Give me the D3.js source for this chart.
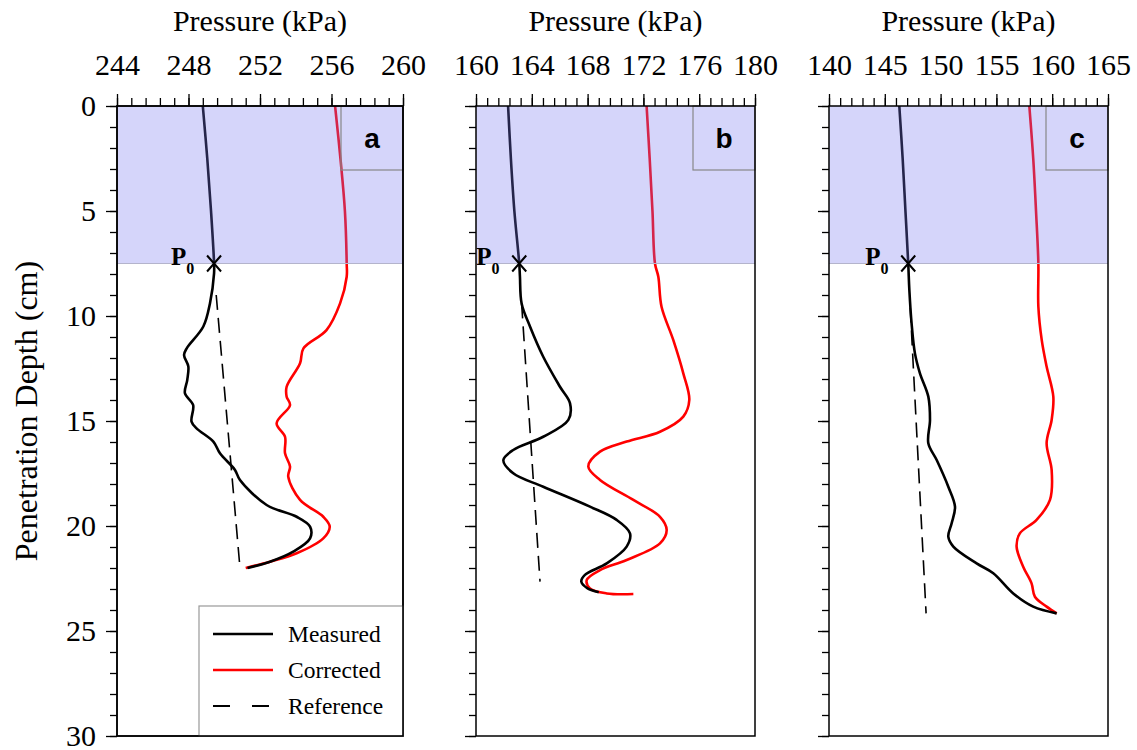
<!DOCTYPE html>
<html>
<head>
<meta charset="utf-8">
<script src="https://cdn.jsdelivr.net/npm/d3@7"></script>
<style>
  html, body { margin: 0; padding: 0; background: #fff; }
  svg { display: block; }
  text { font-family: "Liberation Serif", "Times New Roman", serif; fill: #000; }
</style>
</head>
<body>
<svg id="chart" width="1137" height="750"></svg>
<script>
// ---- data: [depth (cm), pressure (kPa)] ----
const measuredA = [[0,248.8],[2.5,249.05],[5,249.26],[7.5,249.43],[7.97,249.43],[9.4,249.2],[10.5,248.83],[11.54,247.9],[11.86,247.75],[12.4,247.99],[13.05,247.93],[13.68,247.8],[14.24,248.26],[15.03,248.17],[15.35,248.45],[15.98,249.39],[16.54,249.76],[17.33,250.6],[17.81,250.88],[19.0,252.37],[19.56,254.05],[20.03,254.8],[20.59,254.8],[21.22,253.86],[21.7,252.56],[22.0,251.3]];
const correctedA = [[0,256.2],[2.5,256.5],[5,256.75],[7.5,256.85],[8.13,256.85],[9.4,256.48],[10.67,255.72],[11.54,254.43],[12.25,254.24],[13.37,253.49],[13.84,253.49],[14.24,253.68],[15.11,252.93],[15.75,253.4],[16.54,253.4],[17.17,253.68],[17.65,253.58],[18.76,254.24],[19.56,255.54],[20.03,255.9],[20.59,255.54],[21.3,254.05],[21.7,252.56],[22.0,251.2]];
const referenceA = [[9.0,249.55],[22.0,250.88]];

const measuredB = [[0,162.3],[2.5,162.5],[5,162.75],[7.5,163.1],[8.13,163.15],[9.4,163.27],[10.5,163.87],[11.94,164.82],[13.37,166.02],[14.16,166.74],[14.95,166.62],[15.75,164.82],[16.38,162.67],[16.86,161.96],[17.49,162.67],[18.13,164.82],[19.08,168.17],[19.71,170.08],[20.35,171.04],[20.98,170.8],[21.78,169.37],[22.33,167.81],[22.65,167.55],[22.97,168.0],[23.15,168.8]];
const correctedB = [[0,172.23],[2.5,172.45],[5,172.65],[7.5,172.83],[8.13,173.07],[9.56,173.3],[11.14,174.14],[12.73,174.86],[14.0,175.29],[14.79,174.86],[15.51,173.19],[15.98,170.8],[16.46,168.89],[17.17,168.05],[17.81,168.89],[18.76,171.28],[19.56,173.19],[20.19,173.67],[20.83,173.19],[21.62,170.8],[22.1,168.89],[22.57,167.94],[22.97,168.17],[23.21,169.37],[23.24,171.28]];
const referenceB = [[9.4,163.27],[22.65,164.59]];

const measuredC = [[0,146.3],[2.5,146.6],[5,146.85],[7.5,147.1],[8.76,147.2],[10.35,147.4],[11.78,147.7],[12.73,148.15],[13.84,148.9],[14.95,149.05],[16.06,148.9],[16.86,149.65],[18.13,150.69],[19.08,151.29],[19.87,150.99],[20.51,150.69],[20.98,151.14],[21.78,153.23],[22.25,154.72],[23.21,156.51],[23.84,158.3],[24.16,160.4]];
const correctedC = [[0,157.95],[2.5,158.3],[5,158.55],[7.5,158.76],[9.56,158.76],[11.14,159.06],[12.41,159.5],[13.84,160.1],[14.95,159.95],[16.06,159.5],[17.33,159.95],[18.76,159.8],[19.71,158.6],[20.35,157.1],[20.98,156.81],[21.94,157.4],[22.73,158.15],[23.37,158.45],[23.84,159.5],[24.16,160.4]];
const referenceC = [[9.6,147.28],[24.16,148.7]];

// initial pressure P0 reached at the base of the shaded layer
const p0Depth = 7.5;
const p0Values = [249.43, 163.1, 147.1];

const ticksA = [244, 248, 252, 256, 260];
const ticksB = [160, 164, 168, 172, 176, 180];
const ticksC = [140, 145, 150, 155, 160, 165];
const depthTicks = [0, 5, 10, 15, 20, 25, 30];
const panelLetters = ["a", "b", "c"];
const legendLabels = ["Measured", "Corrected", "Reference"];

// ---- layout ----
const yTop = 106, yBottom = 736;
const panels = [
  { x0: 117, x1: 403, ticks: ticksA, minorStep: 0.8, m: measuredA, c: correctedA, r: referenceA },
  { x0: 476, x1: 755, ticks: ticksB, minorStep: 0.8, m: measuredB, c: correctedB, r: referenceB },
  { x0: 829, x1: 1108, ticks: ticksC, minorStep: 1, m: measuredC, c: correctedC, r: referenceC }
];

const svg = d3.select("#chart");
const y = d3.scaleLinear().domain([0, 30]).range([yTop, yBottom]);

panels.forEach((p, i) => {
  const dom = [p.ticks[0], p.ticks[p.ticks.length - 1]];
  const x = d3.scaleLinear().domain(dom).range([p.x0, p.x1]);
  const g = svg.append("g");

  const line = d3.line()
    .x(d => x(d[1]))
    .y(d => y(d[0]))
    .curve(d3.curveCatmullRom.alpha(0.5));

  // reference (dashed)
  g.append("path").datum(p.r)
    .attr("d", d3.line().x(d => x(d[1])).y(d => y(d[0])))
    .attr("fill", "none").attr("stroke", "#000")
    .attr("stroke-width", 1.6).attr("stroke-dasharray", "15,8");

  // corrected
  g.append("path").datum(p.c)
    .attr("d", line).attr("fill", "none")
    .attr("stroke", "#ff0000").attr("stroke-width", 2.6)
    .attr("stroke-linejoin", "round");

  // measured
  g.append("path").datum(p.m)
    .attr("d", line).attr("fill", "none")
    .attr("stroke", "#000").attr("stroke-width", 2.6)
    .attr("stroke-linejoin", "round");

  // shaded upper layer, translucent over the curves
  g.append("rect")
    .attr("x", p.x0).attr("y", y(0))
    .attr("width", p.x1 - p.x0).attr("height", y(p0Depth) - y(0))
    .attr("fill", "rgb(120,120,240)").attr("fill-opacity", 0.31);
  g.append("line")
    .attr("x1", p.x0).attr("x2", p.x1)
    .attr("y1", y(p0Depth)).attr("y2", y(p0Depth))
    .attr("stroke", "#b4b4cc").attr("stroke-width", 1);

  // panel letter box
  const bw = 62, bh = 64;
  g.append("rect")
    .attr("x", p.x1 - bw).attr("y", yTop)
    .attr("width", bw).attr("height", bh)
    .attr("fill", "none").attr("stroke", "#888").attr("stroke-width", 1.2);
  g.append("text")
    .attr("x", p.x1 - bw / 2).attr("y", yTop + 42)
    .attr("text-anchor", "middle")
    .style("font-family", "'Liberation Sans', Arial, sans-serif")
    .style("font-weight", "bold").style("font-size", "28px")
    .text(panelLetters[i]);

  // P0 marker
  const px = x(p0Values[i]), py = y(p0Depth);
  g.append("path")
    .attr("d", `M${px - 7},${py - 8}L${px + 7},${py + 8}M${px - 7},${py + 8}L${px + 7},${py - 8}`)
    .attr("stroke", "#000").attr("stroke-width", 2).attr("fill", "none");
  const lbl = g.append("text")
    .attr("x", px - 43).attr("y", py + 1)
    .style("font-weight", "bold").style("font-size", "25px");
  lbl.append("tspan").text("P");
  lbl.append("tspan").attr("dy", 9).style("font-size", "16px").text("0");

  // frame
  g.append("rect")
    .attr("x", p.x0).attr("y", yTop)
    .attr("width", p.x1 - p.x0).attr("height", yBottom - yTop)
    .attr("fill", "none").attr("stroke", "#000").attr("stroke-width", 1.5);

  // top axis: minor then major ticks
  const minor = d3.range(dom[0], dom[1] + 1e-6, p.minorStep);
  const minorAxis = g.append("g").attr("transform", `translate(0,${yTop})`)
    .call(d3.axisTop(x).tickValues(minor).tickSize(8).tickFormat(""));
  const majorAxis = g.append("g").attr("transform", `translate(0,${yTop})`)
    .call(d3.axisTop(x).tickValues(p.ticks).tickSize(12).tickPadding(19).tickFormat(d3.format("d")));
  [minorAxis, majorAxis].forEach(a => {
    a.select(".domain").remove();
    a.selectAll("line").attr("stroke", "#000").attr("stroke-width", 1.3);
  });
  majorAxis.selectAll("text")
    .style("font-family", "'Liberation Serif', 'Times New Roman', serif")
    .style("font-size", "30px").attr("fill", "#000");

  // axis title
  g.append("text")
    .attr("x", (p.x0 + p.x1) / 2).attr("y", 31)
    .attr("text-anchor", "middle").style("font-size", "30px")
    .text("Pressure (kPa)");

  // left axis
  const yMinor = g.append("g").attr("transform", `translate(${p.x0},0)`)
    .call(d3.axisLeft(y).tickValues(d3.range(0, 31, 1)).tickSize(7).tickFormat(""));
  const yMajor = g.append("g").attr("transform", `translate(${p.x0},0)`)
    .call(d3.axisLeft(y).tickValues(depthTicks).tickSize(11).tickPadding(10)
      .tickFormat(i === 0 ? d3.format("d") : ""));
  [yMinor, yMajor].forEach(a => {
    a.select(".domain").remove();
    a.selectAll("line").attr("stroke", "#000").attr("stroke-width", 1.3);
  });
  yMajor.selectAll("text")
    .style("font-family", "'Liberation Serif', 'Times New Roman', serif")
    .style("font-size", "30px").attr("fill", "#000");
});

// y axis title
svg.append("text")
  .attr("transform", "translate(37,411) rotate(-90)")
  .attr("text-anchor", "middle").style("font-size", "32px")
  .text("Penetration Depth (cm)");

// legend in panel a
const lg = svg.append("g");
lg.append("rect")
  .attr("x", 199).attr("y", 606).attr("width", 403 - 199).attr("height", yBottom - 606)
  .attr("fill", "#fff").attr("stroke", "#999").attr("stroke-width", 1.2);
lg.append("rect")
  .attr("x", 117).attr("y", yTop).attr("width", 286).attr("height", yBottom - yTop)
  .attr("fill", "none").attr("stroke", "#000").attr("stroke-width", 1.5);
const legendStyles = [
  { color: "#000", dash: null, w: 2.6 },
  { color: "#ff0000", dash: null, w: 2.6 },
  { color: "#000", dash: "17,22", w: 1.8 }
];
legendLabels.forEach((name, k) => {
  const ly = 634 + k * 36;
  lg.append("line")
    .attr("x1", 213).attr("x2", 273).attr("y1", ly).attr("y2", ly)
    .attr("stroke", legendStyles[k].color).attr("stroke-width", legendStyles[k].w)
    .attr("stroke-dasharray", legendStyles[k].dash);
  lg.append("text")
    .attr("x", 288).attr("y", ly).attr("dy", "0.33em")
    .style("font-size", "23.5px").text(name);
});
</script>
</body>
</html>
